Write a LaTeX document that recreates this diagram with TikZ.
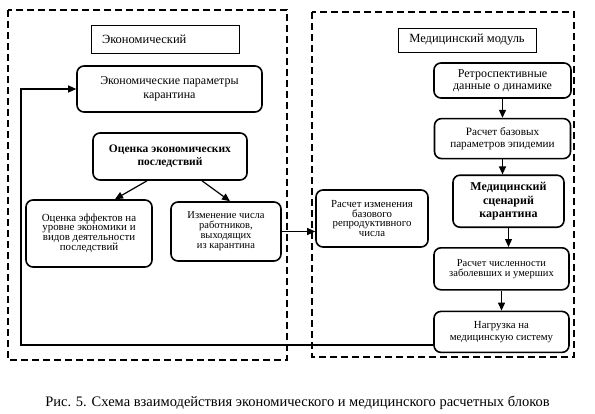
\documentclass[tikz,border=0pt]{standalone}
\usepackage{fontspec}
\setmainfont{Liberation Serif}
\usetikzlibrary{positioning,arrows.meta}

\begin{document}
\begin{tikzpicture}[x=1pt,y=-1pt,
    box/.style={draw,line width=1.6pt,rounded corners=7pt,align=center,inner sep=2pt,font=\fontsize{10.5}{10}\selectfont},
    title/.style={draw,line width=0.9pt,font=\fontsize{12.5}{13}\selectfont},
    zone/.style={line width=1.5pt,dash pattern=on 7pt off 4pt},
    arr/.style={line width=1.2pt,-{Triangle[length=8pt,width=7pt]}}]

    \useasboundingbox (0,0) rectangle (595,413);
    % dashed zones
    \draw[zone] (8,10) rectangle (287,360);
    \draw[zone] (312,12) rectangle (574,357);

    % economic block
    \node[title,minimum width=148pt,minimum height=28pt,text width=126pt,inner xsep=11pt,align=left] (ecotitle) at (165,39) {Экономический};
    \node[box,minimum width=185pt,minimum height=46pt,font=\fontsize{12}{13.5}\selectfont] (ecoparam) at (169.5,89) {Экономические параметры\\карантина};
    \node[box,minimum width=154pt,minimum height=47pt,font=\fontsize{11.5}{13}\selectfont\bfseries] (ecoeval) at (170,156.5) {Оценка экономических\\последствий};
    \node[box,minimum width=126pt,minimum height=67pt,font=\fontsize{10.9}{9.4}\selectfont] (effects) at (89,233.5) {Оценка эффектов на\\уровне экономики и\\видов деятельности\\последствий};
    \node[box,minimum width=110pt,minimum height=59pt] (workers) at (226,231.5) {Изменение числа\\работников,\\выходящих\\из карантина};

    % medical block
    \node[title,minimum width=138pt,minimum height=24pt] (medtitle) at (467,40) {Медицинский модуль};
    \node[box,minimum width=112pt,minimum height=57pt,font=\fontsize{10.8}{9.6}\selectfont] (r0) at (372,218.5) {Расчет изменения\\базового\\репродуктивного\\числа};
    \node[box,minimum width=137pt,minimum height=35pt,font=\fontsize{12}{12.3}\selectfont] (retro) at (502.5,80.5) {Ретроспективные\\данные о динамике};
    \node[box,minimum width=136pt,minimum height=40pt,font=\fontsize{11.2}{12.3}\selectfont] (basepar) [below=19pt of retro] {Расчет базовых\\параметров эпидемии};
    \node[box,minimum width=111pt,minimum height=52pt,font=\fontsize{12}{13.5}\selectfont\bfseries] (scenario) [below=15pt of basepar,xshift=6pt] {Медицинский\\сценарий\\карантина};
    \node[box,minimum width=135pt,minimum height=42pt] (counts) [below=19pt of scenario,xshift=-7pt] {Расчет численности\\заболевших и умерших};
    \node[box,minimum width=135pt,minimum height=41pt,font=\fontsize{10.8}{11.7}\selectfont] (load) [below=20pt of counts] {Нагрузка на\\медицинскую систему};

    \coordinate (back) at (21,89);

    \draw[arr] ([xshift=-23pt]ecoeval.south) -- ([xshift=26pt]effects.north);
    \draw[arr] ([xshift=32pt]ecoeval.south) -- ([xshift=4pt]workers.north);
    \draw[arr] (workers.east) -- (workers.east -| r0.west);
    \draw[arr] (retro.south) -- (retro.south |- basepar.north);
    \draw[arr] (basepar.south) -- (basepar.south |- scenario.north);
    \draw[arr] (scenario.south) -- (scenario.south |- counts.north);
    \draw[arr] (counts.south) -- (counts.south |- load.north);
    \draw[arr] ([yshift=-13pt]load.west) -| (back) -- (ecoparam.west);

    \node[font=\fontsize{14.5}{15}\selectfont] (caption) at (297.5,403) {Рис. 5. Схема взаимодействия экономического и медицинского расчетных блоков};
\end{tikzpicture}
\end{document}
